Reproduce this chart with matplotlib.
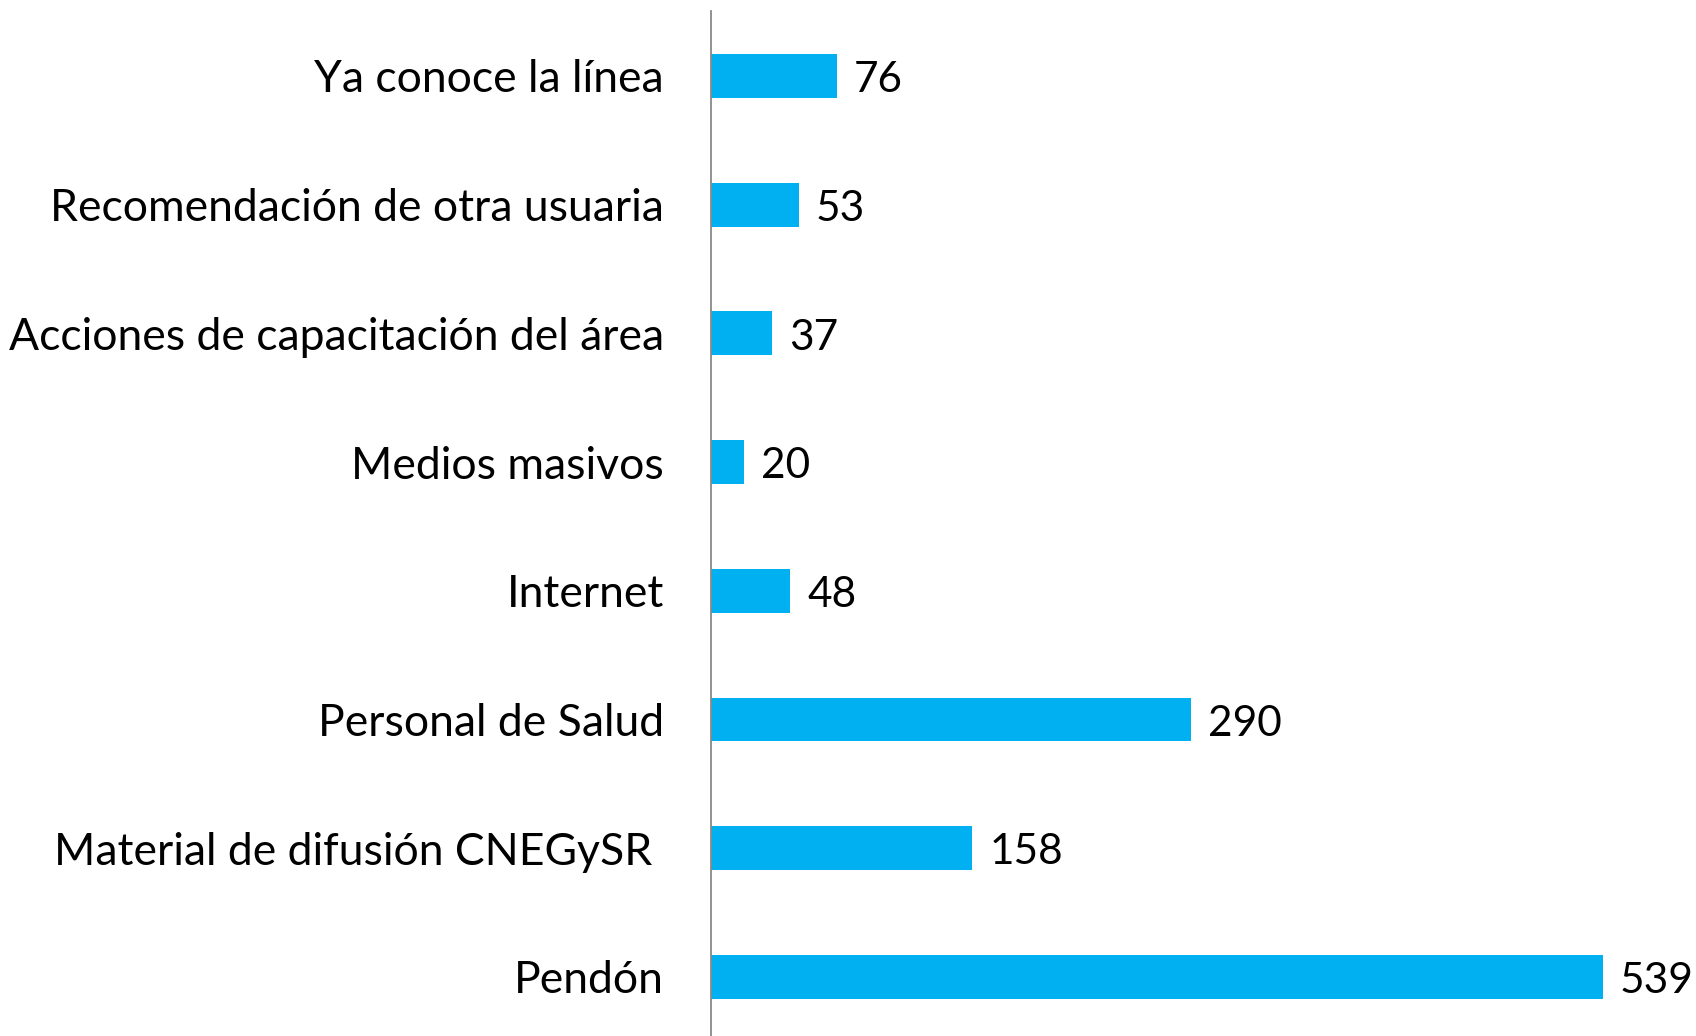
import matplotlib
matplotlib.use("Agg")
import matplotlib.pyplot as plt

categories = ["Ya conoce la línea", "Recomendación de otra usuaria",
              "Acciones de capacitación del área", "Medios masivos", "Internet",
              "Personal de Salud", "Material de difusión CNEGySR ", "Pendón"]
values = [76, 53, 37, 20, 48, 290, 158, 539]

plt.rcParams['font.family'] = ['Lato', 'DejaVu Sans']

fig = plt.figure(figsize=(16.96, 10.36), dpi=100)
ax = fig.add_axes([711/1696, 0, 1 - 711/1696, 1 - 11/1036])

y = list(range(len(categories)))
ax.barh(y, values, height=0.34, color="#00B0F0")
ax.set_ylim(7.46, -0.505)
ax.set_xlim(0, 985/1.655)

for yi, v in zip(y, values):
    ax.annotate(str(v), (v, yi), xytext=(12, -3), textcoords="offset points",
                ha="left", va="center", fontsize=30.5, color="black")

ax.set_yticks(y)
ax.set_yticklabels(categories, fontsize=32)
ax.tick_params(axis="y", length=0, pad=34)
ax.set_xticks([])
for s in ["top", "right", "bottom"]:
    ax.spines[s].set_visible(False)
ax.spines["left"].set_color("#898989")
ax.spines["left"].set_linewidth(1.3)

fig.savefig("out.png", dpi=100)
